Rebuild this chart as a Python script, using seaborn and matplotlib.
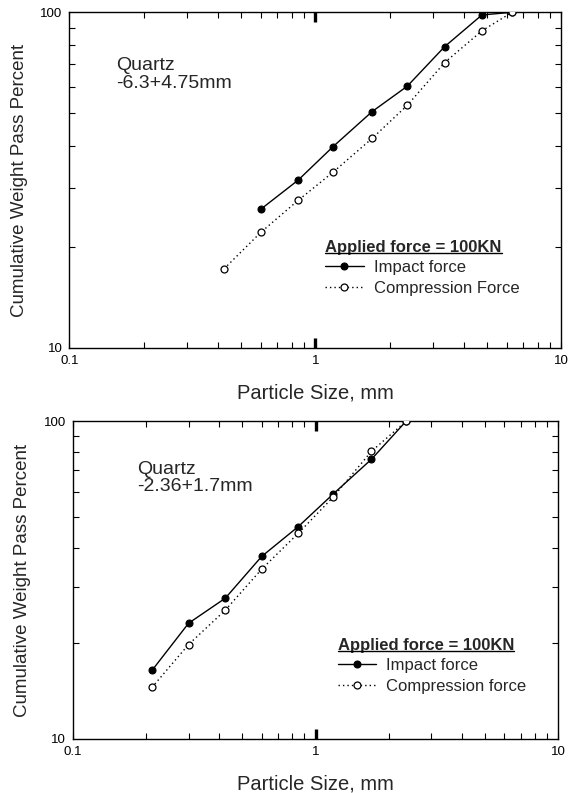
import matplotlib
matplotlib.use("Agg")
import numpy as np
import pandas as pd
import seaborn as sns
import matplotlib.pyplot as plt
from matplotlib.ticker import FixedLocator, FixedFormatter, NullFormatter, FuncFormatter
from matplotlib.lines import Line2D

# Sieve sizes (mm) and cumulative weight passing (%)
top_impact_size = [0.6, 0.85, 1.18, 1.7, 2.36, 3.35, 4.75, 6.3]
top_impact_pass = [25.9, 31.6, 39.8, 50.6, 60.2, 79.0, 98.2, 100.0]
top_comp_size = [0.425, 0.6, 0.85, 1.18, 1.7, 2.36, 3.35, 4.75, 6.3]
top_comp_pass = [17.2, 22.1, 27.5, 33.4, 42.1, 52.8, 70.8, 88.1, 100.0]

bot_impact_size = [0.212, 0.3, 0.425, 0.6, 0.85, 1.18, 1.7, 2.36]
bot_impact_pass = [16.4, 23.1, 27.7, 37.5, 46.6, 58.9, 75.9, 100.0]
bot_comp_size = [0.212, 0.3, 0.425, 0.6, 0.85, 1.18, 1.7, 2.36]
bot_comp_pass = [14.5, 19.8, 25.4, 34.2, 44.4, 57.6, 80.4, 100.0]

# axis ticks: a heavy mark at 1 mm, light marks elsewhere (edge decades labelled)
x_centre = [1]
x_centre_labels = ["1"]
x_light = [0.1, 0.2, 0.3, 0.4, 0.5, 0.6, 0.7, 0.8, 0.9,
           2, 3, 4, 5, 6, 7, 8, 9, 10]
x_edge_labels = {0.1: "0.1", 10: "10"}
y_major = [10, 100]
y_major_labels = ["10", "100"]
y_minor = [20, 30, 40, 50, 60, 70, 80, 90]

legend_title = "Applied force = 100KN"

sns.set_style("ticks")
plt.rcParams["font.family"] = ["Liberation Sans", "DejaVu Sans"]

fig = plt.figure(figsize=(5.69, 7.93), dpi=100)
ax_top = fig.add_axes([0.1221, 0.5614, 0.8647, 0.4231])
ax_bot = fig.add_axes([0.1278, 0.0685, 0.8534, 0.4003])


def edge_label(v, pos):
    for k, s in x_edge_labels.items():
        if abs(v - k) / k < 1e-6:
            return s
    return ""


def style_axes(ax):
    ax.set_xscale("log")
    ax.set_yscale("log")
    ax.set_xlim(0.1, 10)
    ax.set_ylim(10, 100)
    ax.xaxis.set_major_locator(FixedLocator(x_centre))
    ax.xaxis.set_major_formatter(FixedFormatter(x_centre_labels))
    ax.xaxis.set_minor_locator(FixedLocator(x_light))
    ax.xaxis.set_minor_formatter(FuncFormatter(edge_label))
    ax.yaxis.set_major_locator(FixedLocator(y_major))
    ax.yaxis.set_major_formatter(FixedFormatter(y_major_labels))
    ax.yaxis.set_minor_locator(FixedLocator(y_minor))
    ax.yaxis.set_minor_formatter(NullFormatter())
    ax.tick_params(which="both", direction="in", top=True, right=True,
                   bottom=True, left=True, colors="black", labelsize=9.5)
    ax.tick_params(which="minor", length=4.5, width=0.8)
    ax.tick_params(axis="x", which="minor", pad=5)
    ax.tick_params(axis="x", which="major", length=7, width=2.4, pad=5)
    ax.tick_params(axis="y", which="major", length=0, pad=5)
    for s in ax.spines.values():
        s.set_visible(True)
        s.set_linewidth(1.0)
        s.set_color("black")
    ax.set_xlabel("Particle Size, mm", fontsize=14.5, labelpad=12)
    ax.set_ylabel("Cumulative Weight Pass Percent", fontsize=13.5, labelpad=9)


def draw_panel(ax, imp_x, imp_y, comp_x, comp_y, comp_label, note, note_xy, leg_xy):
    sns.lineplot(x=imp_x, y=imp_y, ax=ax, color="black", linewidth=1.0,
                 marker="o", markersize=5.0, markerfacecolor="black",
                 mec="black", mew=0.8, label="Impact force",
                 errorbar=None, sort=False, zorder=3)
    sns.lineplot(x=comp_x, y=comp_y, ax=ax, color="black", linewidth=1.0,
                 linestyle=(0, (1, 2.2)), marker="o", markersize=5.0,
                 markerfacecolor="white", mec="black", mew=0.9,
                 label=comp_label, errorbar=None, sort=False, zorder=4)
    style_axes(ax)
    ax.text(note_xy[0], note_xy[1], note, transform=ax.transAxes,
            ha="left", va="top", fontsize=14, linespacing=1.05)
    leg = ax.legend(title=legend_title, loc="upper left", bbox_to_anchor=leg_xy,
                    frameon=False, fontsize=12,
                    title_fontproperties={"weight": "bold", "size": 12},
                    alignment="left", handlelength=2.3, handletextpad=0.6,
                    labelspacing=0.33, borderpad=0, borderaxespad=0)
    return leg


leg_top = draw_panel(ax_top, top_impact_size, top_impact_pass,
                     top_comp_size, top_comp_pass, "Compression Force",
                     "Quartz\n-6.3+4.75mm", (0.0945, 0.867), (0.52, 0.322))
leg_bot = draw_panel(ax_bot, bot_impact_size, bot_impact_pass,
                     bot_comp_size, bot_comp_pass, "Compression force",
                     "Quartz\n-2.36+1.7mm", (0.132, 0.876), (0.546, 0.318))

# underline the legend titles
fig.canvas.draw()
renderer = fig.canvas.get_renderer()
W, H = fig.bbox.width, fig.bbox.height
fs_px = 12 * fig.dpi / 72.0
for leg in (leg_top, leg_bot):
    bb = leg.get_title().get_window_extent(renderer)
    y = bb.y0 + 0.13 * fs_px
    fig.add_artist(Line2D([bb.x0 / W, bb.x1 / W], [y / H, y / H],
                          transform=fig.transFigure, color="black", lw=1.0))

fig.savefig("out.png", dpi=100)
